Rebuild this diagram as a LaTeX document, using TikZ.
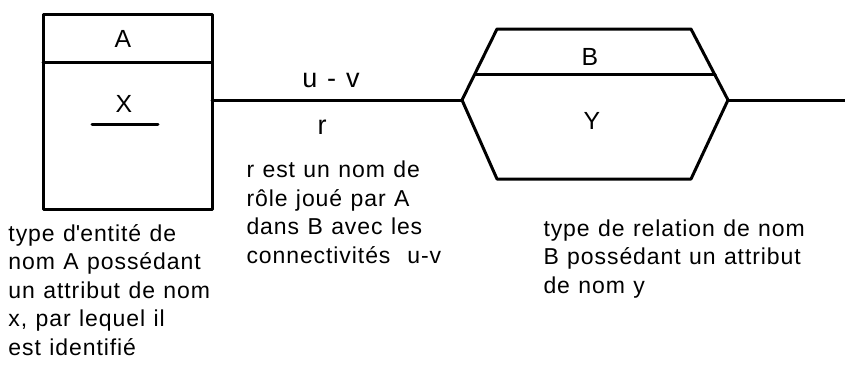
\documentclass[tikz,border=0pt]{standalone}
\usepackage{fontspec}
\setmainfont{Liberation Sans}
\newfontfamily\notefont{Liberation Sans}[LetterSpace=4,WordSpace=1.15]
\usetikzlibrary{positioning}

\begin{document}
\begin{tikzpicture}[x=0.5pt,y=-0.5pt,line width=1.5pt,line cap=round,line join=round,
	lbl/.style={inner sep=0pt,font=\fontsize{12.4}{15}\selectfont},
	note/.style={anchor=base west,inner sep=0pt,align=left,font=\notefont\fontsize{11.5}{14.2}\selectfont}]
	\useasboundingbox (0,0) rectangle (845,371);
	% type d'entite A
	\draw (43,14) rectangle (212,209);
	\draw (43,62) -- (212,62);
	\node[lbl] (nomA) at (123,38.5) {A};
	\node[lbl] (attX) at (124,103.5) {X};
	\draw (92,124) -- (158,124);
	% type de relation B
	\coordinate (relL) at (462,100);
	\coordinate (relR) at (728,100);
	\draw (relL) -- (497,29) -- (691,29) -- (relR) -- (691,179) -- (497,179) -- cycle;
	\draw (475,74) -- (715,74);
	\node[lbl] (nomB) at (590,57) {B};
	\node[lbl] (attY) at (592,121) {Y};
	% lien entite - relation
	\coordinate (entR) at (212,100);
	\coordinate (fin) at (845,100);
	\draw (entR) -- (relL);
	\draw (relR) -- (fin);
	\node[lbl,font=\notefont\fontsize{13.5}{15}\selectfont] (card) at (331,80) {u - v};
	\node[lbl,font=\notefont\fontsize{13.5}{15}\selectfont] (role) at (322,127) {r};
	% legendes (ancrees sur la derniere ligne)
	\node[note] (noteA) at (7,355) {type d\textquotesingle entité de\\nom A possédant\\un attribut de nom\\x, par lequel il\\est identifié};
	\node[note] (noteR) at (245,263) {r est un nom de\\rôle joué par A\\dans B avec les\\connectivités~ u-v};
	\node[note] (noteB) at (542,293) {type de relation de nom\\B possédant un attribut\\de nom y};
\end{tikzpicture}
\end{document}
